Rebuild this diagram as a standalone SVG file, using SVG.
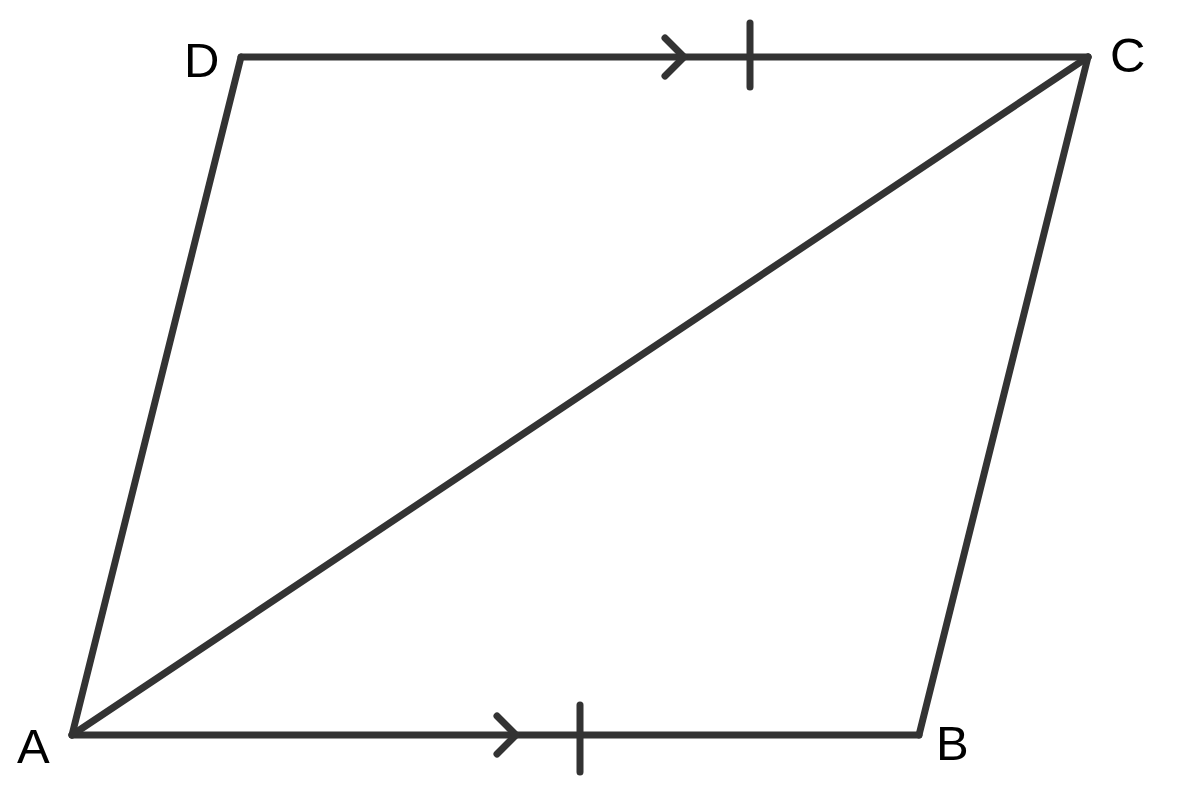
<svg xmlns="http://www.w3.org/2000/svg" width="1180" height="808" viewBox="0 0 1180 808">
<style>
.e{stroke:#333;stroke-width:7;stroke-linecap:round;stroke-linejoin:round;fill:none}
.l{font-family:"Liberation Sans",Arial,sans-serif;font-size:49px;fill:#000}
</style>
<rect width="1180" height="808" fill="#fff"/>
<g id="connectors">
<path class="e" d="M72,735 L919,735"/>
<path class="e" d="M919,735 L1088,57"/>
<path class="e" d="M1088,57 L241,57"/>
<path class="e" d="M241,57 L72,735"/>
<path class="e" d="M72,735 L1088,57"/>
<path class="e" d="M665,38 L684,57 L665,76"/>
<path class="e" d="M750,23 L750,87"/>
<path class="e" d="M497,716 L516,735 L497,754"/>
<path class="e" d="M580,705 L580,772"/>
</g>
<g id="A"><text class="l" x="17" y="763">A</text></g>
<g id="B"><text class="l" x="936" y="760">B</text></g>
<g id="C"><text class="l" x="1110" y="72">C</text></g>
<g id="D"><text class="l" x="184" y="77">D</text></g>
</svg>
